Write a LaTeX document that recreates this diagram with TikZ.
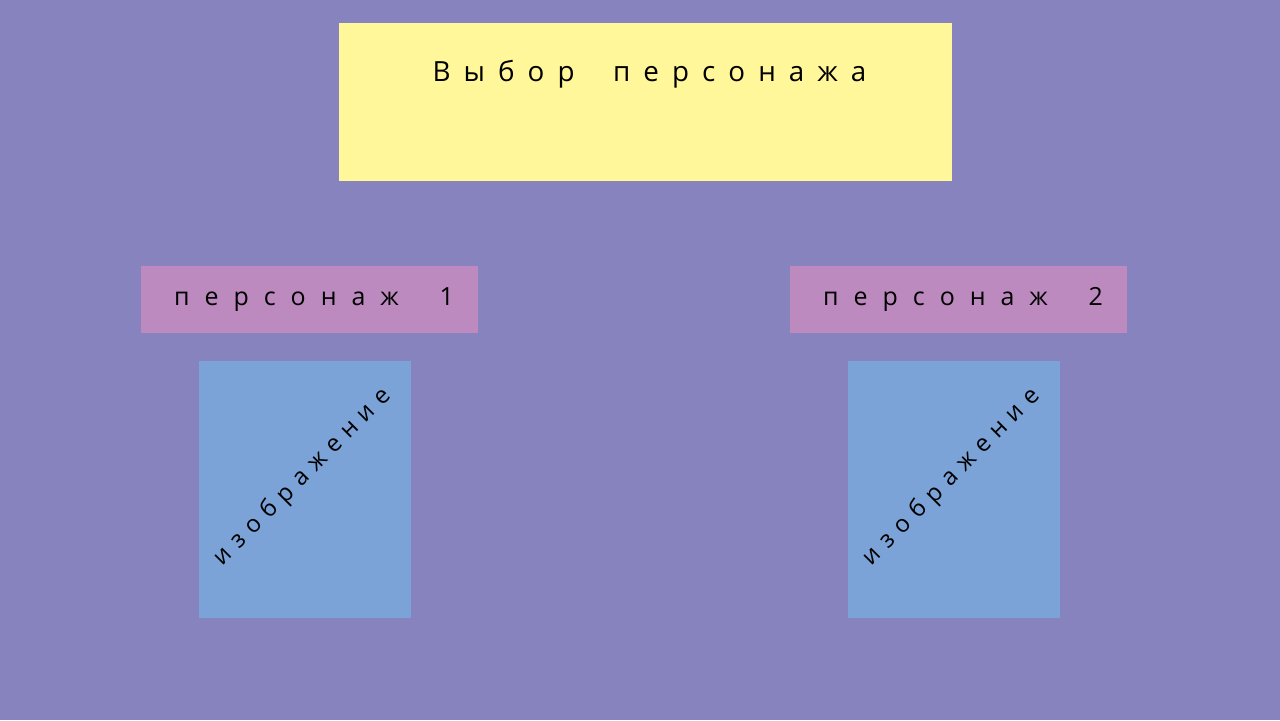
\documentclass[tikz,border=0pt]{standalone}
\usepackage{fontspec}
\setmainfont{Open Sans}
\newfontfamily\spaced[LetterSpace=47, WordSpace=1.9]{Open Sans}
\newfontfamily\wide[LetterSpace=60, WordSpace=1.9]{Open Sans}
\newfontfamily\tight[LetterSpace=34]{Open Sans}
\usetikzlibrary{positioning}
\definecolor{bgcol}{HTML}{8783BE}
\definecolor{yellowcol}{HTML}{FFF799}
\definecolor{pinkcol}{HTML}{BC8ABF}
\definecolor{bluecol}{HTML}{7BA3D7}

\begin{document}
\begin{tikzpicture}[x=0.01cm, y=-0.01cm,
box/.style={fill=#1, inner sep=0pt},
lbl/.style={font=#1, inner sep=0pt}]
\fill [bgcol] (0,0) rectangle (1280,720);
\useasboundingbox (0,0) rectangle (1280,720);
% title
\node [box=yellowcol, minimum width=6.13cm, minimum height=1.58cm] (title) at (645.5,102) {};
\node [lbl=\spaced\fontsize{7.9pt}{7.9pt}\selectfont] (title_txt) at (649.5,74) {Выбор персонажа};
% characters
\foreach \i/\x in {1/309.5, 2/958.5} {
  \node [box=pinkcol, minimum width=3.37cm, minimum height=0.67cm] (name_\i) at (\x,299.5) {};
  \node [lbl=\wide\fontsize{7.1pt}{7.1pt}\selectfont] at (name_\i) [xshift=0.045cm] (name_txt_\i) {персонаж \i};
  \node [box=bluecol, minimum width=2.12cm, minimum height=2.565cm] (pic_\i) [below=0.265cm of name_\i, xshift=-0.045cm] {};
  \node [lbl=\tight\fontsize{6.8pt}{6.8pt}\selectfont, rotate=45] at (pic_\i) [xshift=0.07cm, yshift=0.1cm] (pic_txt_\i) {изображение};
}
\end{tikzpicture}
\end{document}
